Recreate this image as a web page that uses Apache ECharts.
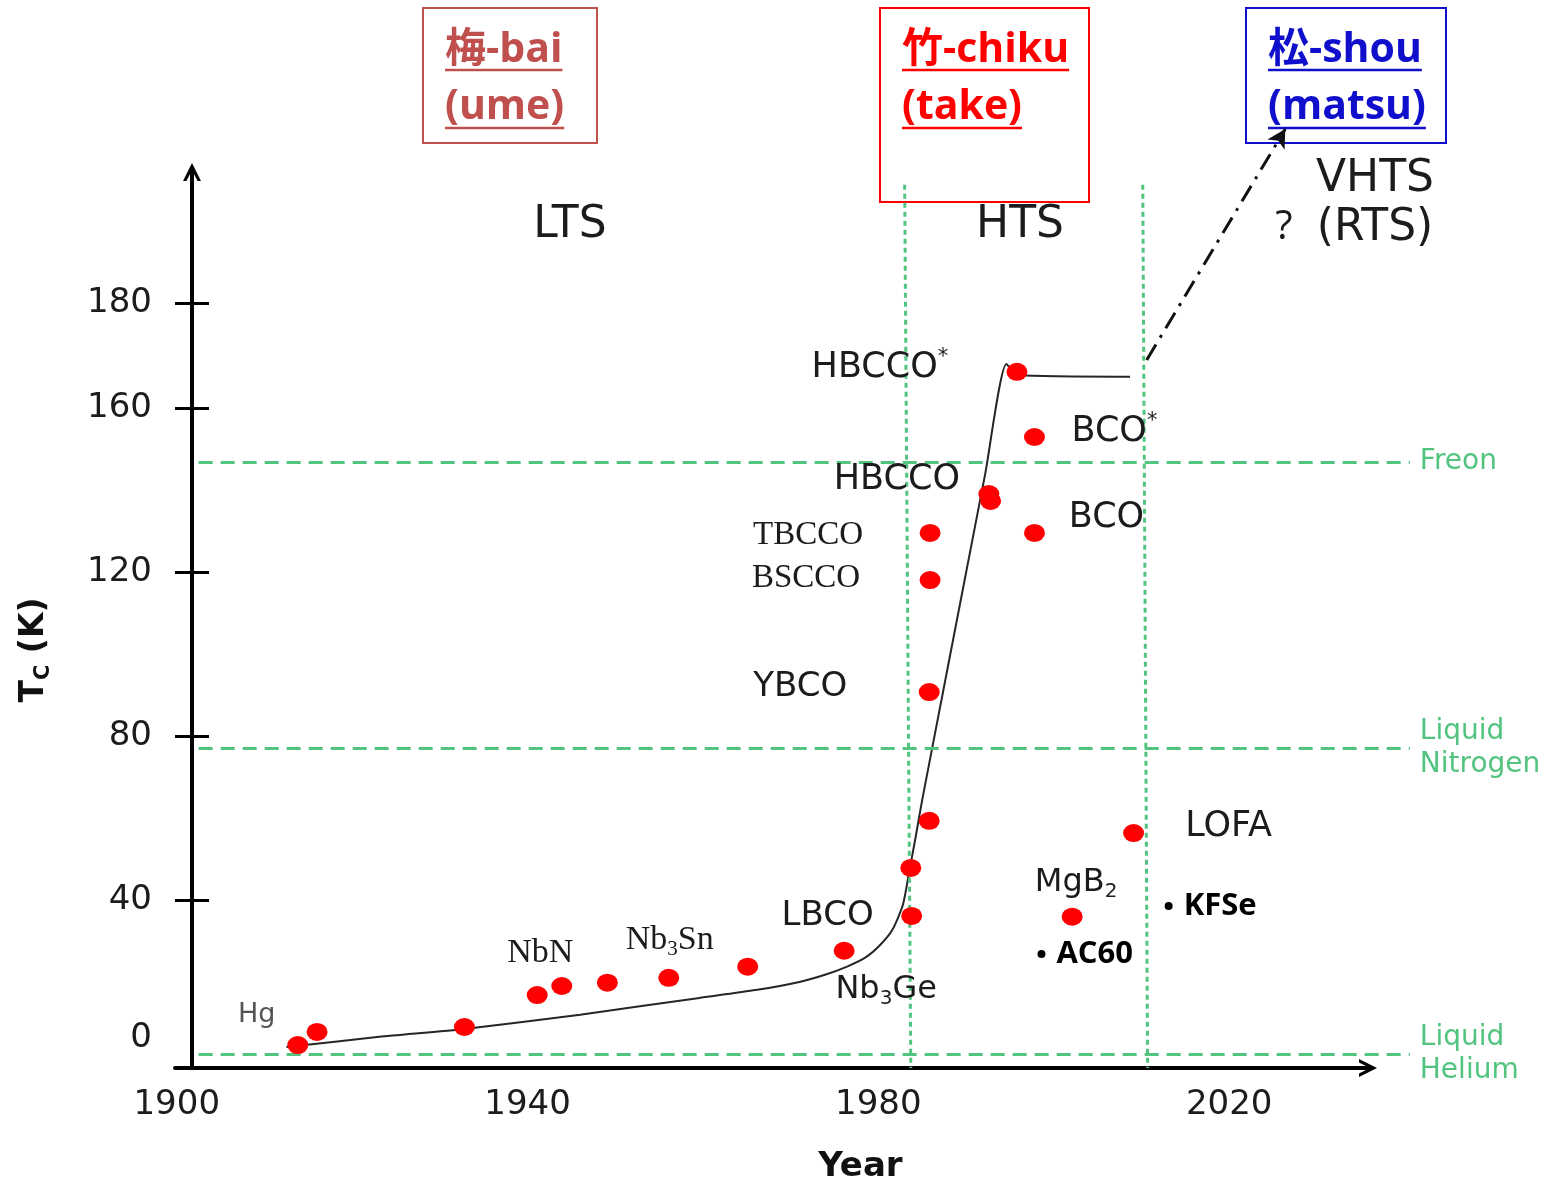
<!DOCTYPE html>
<html>
<head>
<meta charset="utf-8">
<script src="https://cdn.jsdelivr.net/npm/echarts@6/dist/echarts.min.js"></script>
<style>
  html, body { margin: 0; padding: 0; background: #ffffff; }
  #chart { width: 1558px; height: 1187px; }
</style>
</head>
<body>
<div id="chart"></div>
<script>
// Critical temperature Tc (K) of superconductors against year of discovery
const dotYears = [1913.8, 1916.0, 1932.8, 1941.1, 1943.9, 1949.1, 1956.1, 1965.1, 1976.1, 1983.8, 1983.7,
                  1985.8, 1985.8, 1985.9, 1985.9, 1992.6, 1992.8, 1997.8, 1997.8, 1995.8, 2009.1, 2002.1];
const dotTc    = [4.6, 7.8, 9.0, 16.8, 19.0, 19.8, 21.0, 23.7, 27.6, 36.1, 47.8,
                  59.3, 90.7, 118.0, 129.5, 139.0, 137.3, 129.5, 152.9, 168.8, 56.3, 35.9];
const dotNames = ['Hg', '', '', 'NbN', '', '', 'Nb3Sn', '', 'Nb3Ge', 'LBCO', '',
                  '', 'YBCO', 'BSCCO', 'TBCCO', 'HBCCO', '', 'BCO', 'BCO*', 'HBCCO*', 'LOFA', 'MgB2'];

// Further materials, marked with bullets
const bulletYears = [2013.1, 1998.6];
const bulletTc    = [38.5, 26.8];
const bulletNames = ['KFSe', 'AC60'];

// Trend of the record Tc
const trendYears = [1912.5, 1923.1, 1932.8, 1946.0, 1959.6, 1966.0, 1971.0, 1974.0, 1976.5, 1978.5, 1980.2,
                    1981.6, 1982.8, 1983.6, 1984.3, 1985.0, 1987.4, 1989.8, 1992.2, 1994.6, 1995.9, 2008.7];
const trendTc    = [4.1, 6.6, 8.5, 12.0, 16.1, 18.0, 20.0, 21.8, 23.8, 25.9, 29.0,
                    32.7, 38.8, 47.8, 55.9, 64.4, 91.0, 117.6, 144.1, 170.7, 168.0, 167.6];

// Projection towards room temperature
const projYears = [2010.6, 2026.4];
const projTc    = [171.7, 228.0];

// Coolant boiling points
const coolantNames = ['Freon', 'Liquid\nNitrogen', 'Liquid\nHelium'];
const coolantTc    = [146.8, 77.1, 2.4];
const coolantYears = [1902.5, 2040.6];

// Era boundaries LTS | HTS | VHTS
const boundaryTopYears    = [1983.0, 2010.15];
const boundaryBottomYears = [1983.7, 2010.7];
const boundaryTc          = [214.4, -1];

// Axis ticks and labels
const xLabelValues = [1900, 1940, 1980, 2020];
const yTickValues  = [40, 80, 120, 160, 185.6];
const yLabelValues = [6.3, 40, 80, 120, 160, 185.6];
const yLabelTexts  = ['0', '40', '80', '120', '160', '180'];

// Era headers
const headerLines  = [['梅-bai', '(ume)'], ['竹-chiku', '(take)'], ['松-shou', '(matsu)']];
const headerColors = ['#c0504d', '#ff0000', '#1010cc'];
const eraNames     = ['LTS', 'HTS', 'VHTS', '(RTS)', '?'];

// ---------------------------------------------------------------- layout
const SANS  = '"DejaVu Sans", sans-serif';
const SERIF = '"Liberation Serif", serif';
const INK   = '#1c1c1c';
const GREEN = '#52c47f';

const X_MIN = 1899.8, PX_PER_YEAR = 8.77;
const Y_MIN = -1, PX_PER_K = 4.1;
const gridA = { left: 175, top: 170, width: 1195, height: 898 };   // visible axes
const gridB = { left: 175, top: 0, width: 1383, height: 1068 };    // wide overlay, same scale

const arrowHead = 'path://M0,18 L9,0 L18,18 L14.6,18 L9,7.2 L3.4,18 Z';

const labelLayout = {
  'Hg':     { dx: -41,  dy: -30, family: SANS,  size: 27, color: '#555' },
  'NbN':    { dx: 3,    dy: -42, family: SERIF, size: 34 },
  'Nb3Sn':  { dx: 1,    dy: -38, family: SERIF, size: 34 },
  'Nb3Ge':  { dx: 42,   dy: 39,  family: SANS,  size: 32 },
  'LBCO':   { dx: -84,  dy: 0,   family: SANS,  size: 34 },
  'YBCO':   { dx: -129, dy: -5,  family: SANS,  size: 34 },
  'BSCCO':  { dx: -124, dy: -2,  family: SERIF, size: 33 },
  'TBCCO':  { dx: -122, dy: 2,   family: SERIF, size: 33 },
  'HBCCO':  { dx: -92,  dy: -14, family: SANS,  size: 35 },
  'BCO':    { dx: 72,   dy: -15, family: SANS,  size: 35 },
  'BCO*':   { dx: 80,   dy: -5,  family: SANS,  size: 35 },
  'HBCCO*': { dx: -137, dy: -4,  family: SANS,  size: 35 },
  'LOFA':   { dx: 95,   dy: -6,  family: SANS,  size: 35 },
  'MgB2':   { dx: 4,    dy: -34, family: SANS,  size: 32 }
};

function chemRich(name) {
  return name.replace(/(\d)/g, '{sub|$1}').replace(/\*/g, '{sup|*}');
}

const dotData = dotYears.map((yr, i) => {
  const name = dotNames[i];
  const item = { value: [yr, dotTc[i]], name: name };
  const lay = labelLayout[name];
  if (lay) {
    const s = lay.size;
    const c = lay.color || INK;
    item.label = {
      show: true,
      position: 'inside',
      offset: [lay.dx, lay.dy],
      formatter: chemRich(name),
      color: c, opacity: 1,
      fontFamily: lay.family,
      fontSize: s,
      rich: {
        sub: { fontFamily: lay.family, fontSize: Math.round(s * 0.62), color: c, padding: [Math.round(s * 0.6), 0, 0, 0] },
        sup: { fontFamily: lay.family, fontSize: Math.round(s * 0.6), color: c, padding: [0, 0, Math.round(s * 0.6), 0] }
      }
    };
  }
  return item;
});

// ---------------------------------------------------------------- headers
const measureCtx = document.createElement('canvas').getContext('2d');
function textWidth(str, font) { measureCtx.font = font; return measureCtx.measureText(str).width; }

const HEAD_FONT = 'bold 41px "Open Sans", "Noto Sans CJK JP", sans-serif';
const headerBoxes = [[423, 8, 174, 135], [880, 8, 209, 194], [1246, 8, 200, 135]];
const headerLineY = [50, 107];
const underlineY  = [70, 128];

const graphics = [];
headerLines.forEach((lines, h) => {
  const [bx, by, bw, bh] = headerBoxes[h];
  const color = headerColors[h];
  graphics.push({
    type: 'rect', shape: { x: bx, y: by, width: bw, height: bh },
    style: { fill: 'none', stroke: color, lineWidth: 2 }, silent: true
  });
  const tx = bx + 22;
  lines.forEach((txt, k) => {
    graphics.push({
      type: 'text',
      style: { text: txt, x: tx, y: headerLineY[k], font: HEAD_FONT, fill: color,
               textAlign: 'left', align: 'left', textVerticalAlign: 'middle', verticalAlign: 'middle' },
      silent: true
    });
    const w = textWidth(txt, HEAD_FONT);
    graphics.push({
      type: 'line', shape: { x1: tx, y1: underlineY[k], x2: tx + w, y2: underlineY[k] },
      style: { stroke: color, lineWidth: 2.5 }, silent: true
    });
  });
});

const eraPos = [[570, 226, 44, SANS], [1020, 226, 44, SANS], [1375, 180, 44, SANS], [1375, 229, 44, SANS],
                [1284, 228, 40, '"Open Sans", sans-serif']];
eraNames.forEach((t, i) => {
  const [x, y, size, fam] = eraPos[i];
  graphics.push({
    type: 'text',
    style: { text: t, x: x, y: y, font: size + 'px ' + fam, fill: INK,
             textAlign: 'center', align: 'center', textVerticalAlign: 'middle', verticalAlign: 'middle' },
    silent: true
  });
});

// ---------------------------------------------------------------- option
const yMaxA = Y_MIN + gridA.height / PX_PER_K;
const yMaxB = Y_MIN + gridB.height / PX_PER_K;
const xMaxA = X_MIN + gridA.width / PX_PER_YEAR;
const xMaxB = X_MIN + gridB.width / PX_PER_YEAR;

function nearestIndex(arr, v) {
  let best = 0;
  arr.forEach((a, i) => { if (Math.abs(a - v) < Math.abs(arr[best] - v)) best = i; });
  return best;
}

const option = {
  animation: false,
  backgroundColor: '#ffffff',
  grid: [
    Object.assign({ outerBoundsMode: 'none', containLabel: false }, gridA),
    Object.assign({ outerBoundsMode: 'none', containLabel: false }, gridB)
  ],
  xAxis: [
    {
      gridIndex: 0, type: 'value', min: X_MIN, max: xMaxA,
      axisLine: { show: true, onZero: false, lineStyle: { color: '#000', width: 4 },
                  symbol: ['none', arrowHead], symbolSize: [20, 18], symbolOffset: [0, -2] },
      axisTick: { show: false },
      splitLine: { show: false },
      axisLabel: { customValues: xLabelValues, formatter: v => String(Math.round(v)),
                   color: INK, fontFamily: SANS, fontSize: 34, margin: 20 },
      name: 'Year', nameLocation: 'middle', nameGap: 82,
      nameTextStyle: { color: '#111', fontFamily: SANS, fontWeight: 'bold', fontSize: 34, padding: [0, 0, 0, 176] }
    },
    {
      gridIndex: 1, type: 'value', min: X_MIN, max: xMaxB, show: false
    }
  ],
  yAxis: [
    {
      gridIndex: 0, type: 'value', position: 'left', offset: -17, min: Y_MIN, max: yMaxA,
      axisLine: { show: true, onZero: false, lineStyle: { color: '#000', width: 4 },
                  symbol: ['none', arrowHead], symbolSize: [20, 18], symbolOffset: [0, -2] },
      axisTick: { show: true, customValues: yTickValues, length: 17, lineStyle: { color: '#000', width: 3 } },
      splitLine: { show: false },
      axisLabel: {
        customValues: yLabelValues, color: INK, fontFamily: SANS, fontSize: 34, margin: 40,
        formatter: v => yLabelTexts[nearestIndex(yLabelValues, v)]
      },
      name: 'T{s|C} (K)', nameLocation: 'middle', nameRotate: 90, nameGap: 138,
      nameTextStyle: {
        color: '#111', fontFamily: SANS, fontWeight: 'bold', fontSize: 33, padding: [0, 62, 0, 0],
        rich: { s: { fontFamily: SANS, fontWeight: 'bold', fontSize: 21, color: '#111', padding: [18, 0, 0, 0] } }
      }
    },
    {
      gridIndex: 0, type: 'value', position: 'left', offset: -17, min: Y_MIN, max: yMaxA,
      axisLine: { show: false },
      axisTick: { show: true, inside: true, customValues: yTickValues, length: 17, lineStyle: { color: '#000', width: 3 } },
      axisLabel: { show: false },
      splitLine: { show: false }
    },
    {
      gridIndex: 1, type: 'value', min: Y_MIN, max: yMaxB, show: false
    }
  ],
  graphic: { elements: graphics },
  series: [
    {
      // coolant reference levels
      type: 'line', xAxisIndex: 1, yAxisIndex: 2, data: [], z: 1, silent: true,
      markLine: {
        silent: true, symbol: 'none', animation: false,
        lineStyle: { color: GREEN, width: 3, type: [14, 8] },
        label: { show: true, position: 'end', distance: 10, color: GREEN, fontFamily: SANS, fontSize: 28, lineHeight: 33 },
        data: coolantTc.map((t, i) => [
          { coord: [coolantYears[0], t], label: { formatter: coolantNames[i] } },
          { coord: [coolantYears[1], t] }
        ])
      }
    },
    {
      // era boundaries
      type: 'line', xAxisIndex: 1, yAxisIndex: 2, data: [], z: 1, silent: true,
      markLine: {
        silent: true, symbol: 'none', animation: false,
        lineStyle: { color: GREEN, width: 3, type: [5, 4] },
        label: { show: false },
        data: boundaryTopYears.map((yr, i) => [
          { coord: [yr, boundaryTc[0]] },
          { coord: [boundaryBottomYears[i], boundaryTc[1]] }
        ])
      }
    },
    {
      // record Tc trend
      type: 'line', xAxisIndex: 1, yAxisIndex: 2, z: 3, silent: true,
      data: trendYears.map((yr, i) => [yr, trendTc[i]]),
      showSymbol: false, symbol: 'none', smooth: 0.2,
      lineStyle: { color: '#262626', width: 2 }
    },
    {
      // projection towards room temperature
      type: 'line', xAxisIndex: 1, yAxisIndex: 2, data: [], z: 3, silent: true,
      markLine: {
        silent: true, symbol: ['none', 'arrow'], symbolSize: [15, 18], animation: false,
        lineStyle: { color: '#111', width: 3, type: [18, 8, 3, 8] },
        label: { show: false },
        data: [[{ coord: [projYears[0], projTc[0]] }, { coord: [projYears[1], projTc[1]] }]]
      }
    },
    {
      type: 'scatter', xAxisIndex: 1, yAxisIndex: 2, z: 5, silent: true,
      symbol: 'circle', symbolSize: [21, 18],
      itemStyle: { color: '#ff0000', opacity: 1 },
      label: { show: false },
      data: dotData
    },
    {
      type: 'scatter', xAxisIndex: 1, yAxisIndex: 2, z: 5, silent: true,
      symbol: 'circle', symbolSize: 8,
      itemStyle: { color: '#000', opacity: 1 },
      label: {
        show: true, position: 'right', distance: 11, opacity: 1,
        formatter: p => p.name,
        color: '#000', fontFamily: '"Open Sans", sans-serif', fontWeight: 'bold', fontSize: 31
      },
      data: bulletYears.map((yr, i) => ({ value: [yr, bulletTc[i]], name: bulletNames[i] }))
    }
  ]
};

const chart = echarts.init(document.getElementById('chart'), null, { renderer: 'canvas' });
chart.setOption(option);
</script>
</body>
</html>
